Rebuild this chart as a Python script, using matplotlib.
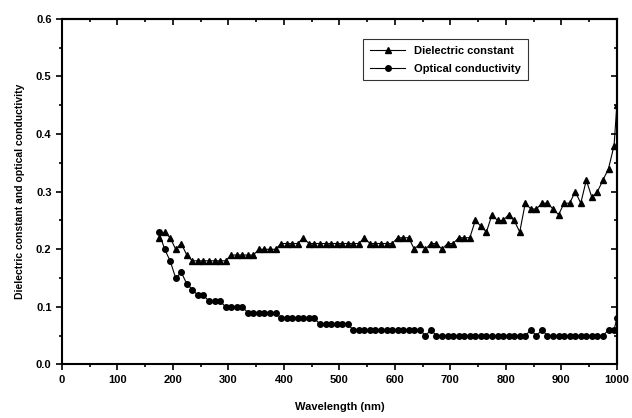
import matplotlib
matplotlib.use('Agg')
import matplotlib.pyplot as plt
from matplotlib.ticker import MultipleLocator, FormatStrFormatter
import numpy as np

# wavelength grid (nm)
wavelength = list(range(175, 1000, 10)) + [1000]

dielectric = [
    0.22, 0.23, 0.22, 0.20, 0.21, 0.19,
    0.18, 0.18, 0.18, 0.18, 0.18, 0.18, 0.18,
    0.19, 0.19, 0.19, 0.19, 0.19,
    0.20, 0.20, 0.20, 0.20,
    0.21, 0.21, 0.21, 0.21,
    0.22,
    0.21, 0.21, 0.21, 0.21, 0.21, 0.21, 0.21, 0.21, 0.21, 0.21,
    0.22,
    0.21, 0.21, 0.21, 0.21, 0.21,
    0.22, 0.22, 0.22,
    0.20, 0.21, 0.20,
    0.21, 0.21,
    0.20,
    0.21, 0.21,
    0.22, 0.22, 0.22,
    0.25, 0.24, 0.23, 0.26,
    0.25, 0.25,
    0.26, 0.25, 0.23, 0.28,
    0.27, 0.27,
    0.28, 0.28,
    0.27, 0.26,
    0.28, 0.28,
    0.30, 0.28, 0.32, 0.29, 0.30, 0.32, 0.34, 0.38,
    0.45,
]

optical = [
    0.23, 0.20, 0.18, 0.15, 0.16, 0.14, 0.13,
    0.12, 0.12,
    0.11, 0.11, 0.11,
    0.10, 0.10, 0.10, 0.10,
    0.09, 0.09, 0.09, 0.09, 0.09, 0.09,
    0.08, 0.08, 0.08, 0.08, 0.08, 0.08, 0.08,
    0.07, 0.07, 0.07, 0.07, 0.07, 0.07,
    0.06, 0.06, 0.06, 0.06, 0.06, 0.06, 0.06, 0.06, 0.06, 0.06, 0.06, 0.06, 0.06,
    0.05, 0.06,
    0.05, 0.05, 0.05, 0.05, 0.05, 0.05, 0.05, 0.05, 0.05, 0.05, 0.05, 0.05,
    0.05, 0.05, 0.05, 0.05, 0.05,
    0.06, 0.05, 0.06,
    0.05, 0.05, 0.05, 0.05, 0.05, 0.05, 0.05, 0.05, 0.05, 0.05, 0.05,
    0.06, 0.06,
    0.08,
]

plt.rcParams['font.family'] = ['Liberation Sans', 'DejaVu Sans']
plt.rcParams['font.weight'] = 'bold'

fig = plt.figure(figsize=(6.32, 4.18), dpi=100)
ax = fig.add_axes([0.098, 0.128, 0.878, 0.827])

ax.plot(wavelength, dielectric, color='black', linewidth=0.8, marker='^',
        markersize=4.5, label='Dielectric constant', clip_on=True)
ax.plot(wavelength, optical, color='black', linewidth=0.8, marker='o',
        markersize=4, label='Optical conductivity', clip_on=True)

ax.set_xlim(0, 1000)
ax.set_ylim(0, 0.6)
ax.xaxis.set_major_locator(MultipleLocator(100))
ax.xaxis.set_minor_locator(MultipleLocator(50))
ax.yaxis.set_major_locator(MultipleLocator(0.1))
ax.yaxis.set_minor_locator(MultipleLocator(0.05))
ax.yaxis.set_major_formatter(FormatStrFormatter('%.1f'))

ax.tick_params(which='major', direction='out', length=4, width=1.2, labelsize=8)
ax.tick_params(which='minor', direction='out', length=2.5, width=1.2)
for lab in ax.get_xticklabels() + ax.get_yticklabels():
    lab.set_fontweight('bold')

# inward ticks on top and right
top = ax.secondary_xaxis('top')
top.xaxis.set_major_locator(MultipleLocator(100))
top.xaxis.set_minor_locator(MultipleLocator(50))
top.tick_params(which='major', direction='in', length=4, width=1.2, labeltop=False)
top.tick_params(which='minor', direction='in', length=2.5, width=1.2)
right = ax.secondary_yaxis('right')
right.yaxis.set_major_locator(MultipleLocator(0.1))
right.yaxis.set_minor_locator(MultipleLocator(0.05))
right.tick_params(which='major', direction='in', length=4, width=1.2, labelright=False)
right.tick_params(which='minor', direction='in', length=2.5, width=1.2)

for sp in list(ax.spines.values()) + [top.spines['top'], right.spines['right']]:
    sp.set_linewidth(1.5)

ax.set_xlabel('Wavelength (nm)', fontsize=8, fontweight='bold', labelpad=12)
ax.set_ylabel('Dielectric constant and optical conductivity', fontsize=7.5,
              fontweight='bold', labelpad=8)

leg = ax.legend(loc='upper left', bbox_to_anchor=(0.533, 0.957), fontsize=8,
                frameon=True, fancybox=False, edgecolor='black',
                handlelength=3.2, borderpad=0.6, labelspacing=0.7)
leg.get_frame().set_linewidth(0.8)
for t in leg.get_texts():
    t.set_fontweight('bold')

fig.savefig('out.png', dpi=100)
